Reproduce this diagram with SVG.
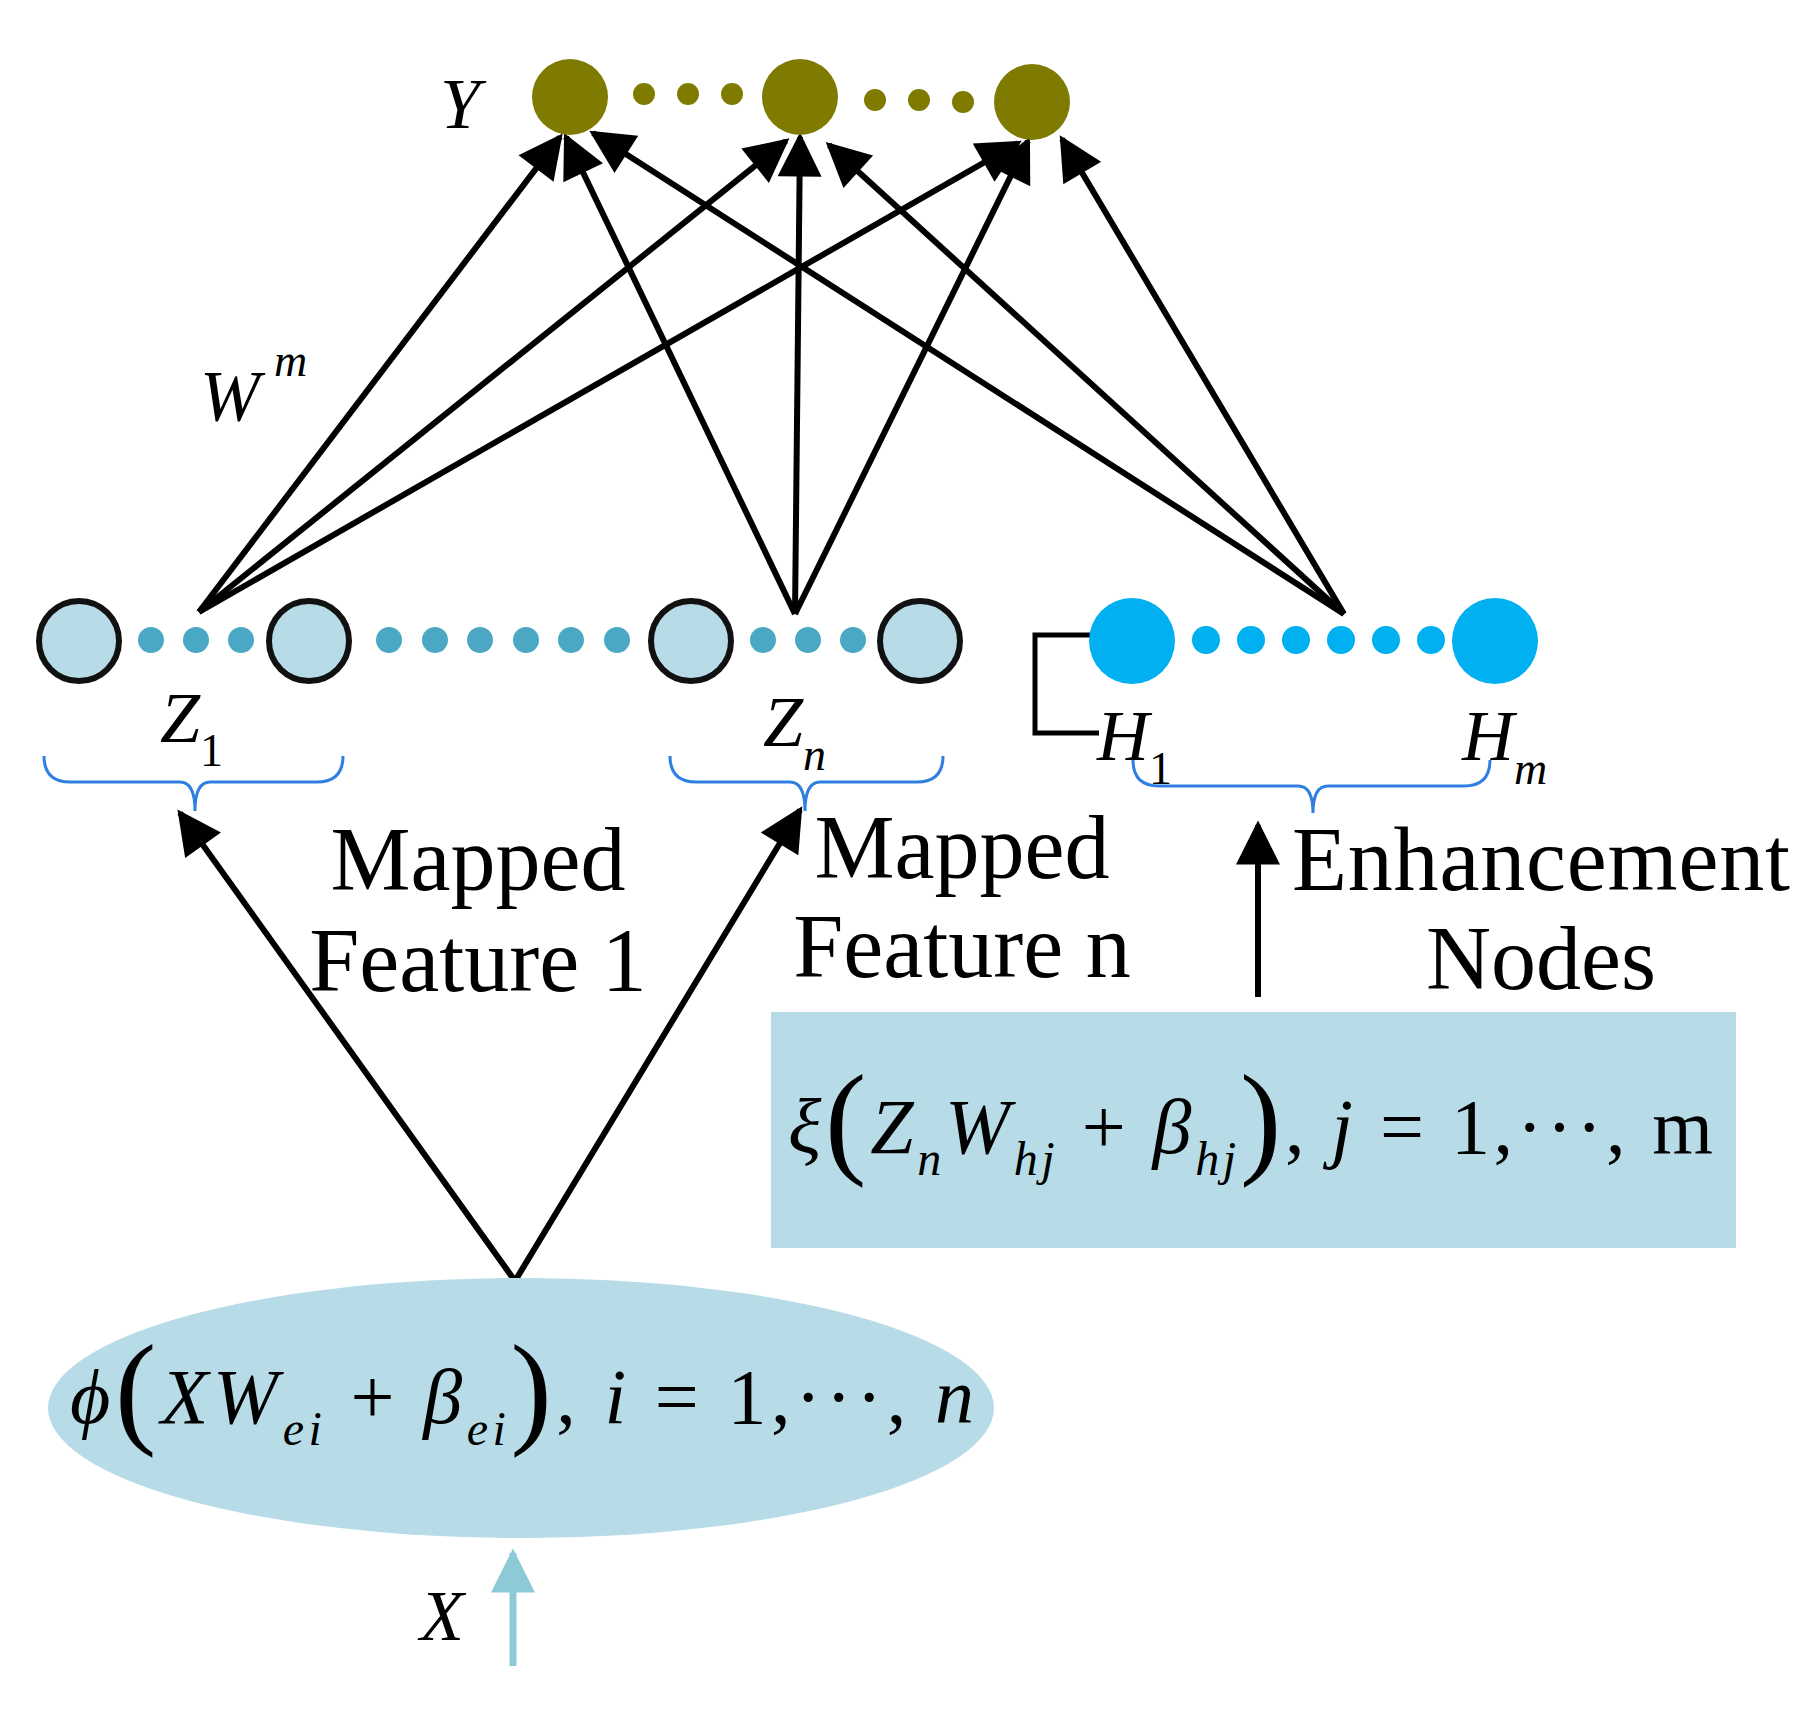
<svg xmlns="http://www.w3.org/2000/svg" width="1808" height="1710" viewBox="0 0 1808 1710">
<style>
.t{font-family:"Liberation Serif",serif;fill:#000}
.i{font-style:italic}
.e{stroke:#000;stroke-width:6;fill:none}
.br{stroke:#2f7fe0;stroke-width:3;fill:none}
.zc{fill:#b7dce8;stroke:#111;stroke-width:6}
.zd{fill:#4aa8c4}
.hc{fill:#00b0f0}
.yc{fill:#7f7a00}
</style>
<defs>
<marker id="a" viewBox="0 0 10 10" refX="9" refY="5" markerWidth="56" markerHeight="44" markerUnits="userSpaceOnUse" orient="auto-start-reverse"><path d="M0,0L10,5L0,10z" fill="#000"/></marker>
<marker id="b" viewBox="0 0 10 10" refX="9" refY="5" markerWidth="50" markerHeight="44" markerUnits="userSpaceOnUse" orient="auto"><path d="M0,0L10,5L0,10z" fill="#8ec9d8"/></marker>
</defs>
<rect width="1808" height="1710" fill="#fff"/>
<g id="connectors">
<line class="e" x1="199" y1="612" x2="560" y2="137" marker-end="url(#a)"/>
<line class="e" x1="199" y1="612" x2="786" y2="141" marker-end="url(#a)"/>
<line class="e" x1="199" y1="612" x2="1018" y2="143" marker-end="url(#a)"/>
<line class="e" x1="795" y1="614" x2="566" y2="137" marker-end="url(#a)"/>
<line class="e" x1="795" y1="614" x2="800" y2="137" marker-end="url(#a)"/>
<line class="e" x1="795" y1="614" x2="1028" y2="141" marker-end="url(#a)"/>
<line class="e" x1="1344" y1="614" x2="593" y2="133" marker-end="url(#a)"/>
<line class="e" x1="1344" y1="614" x2="829" y2="145" marker-end="url(#a)"/>
<line class="e" x1="1344" y1="614" x2="1062" y2="139" marker-end="url(#a)"/>
<polyline class="e" points="180,813 515,1281 800,810" marker-start="url(#a)" marker-end="url(#a)"/>
<line class="e" x1="1258" y1="997" x2="1258" y2="825" marker-end="url(#a)"/>
<line stroke="#8ec9d8" stroke-width="7" x1="513" y1="1666" x2="513" y2="1553" marker-end="url(#b)"/>
<polyline stroke="#000" stroke-width="5" fill="none" points="1092,635 1035,635 1035,733 1099,733"/>
</g>
<g id="Y">
<circle class="yc" cx="570" cy="97" r="38"/><circle class="yc" cx="800" cy="97" r="38"/><circle class="yc" cx="1032" cy="102" r="38"/>
<circle class="yc" cx="644" cy="94" r="11"/><circle class="yc" cx="688" cy="94" r="11"/><circle class="yc" cx="732" cy="94" r="11"/>
<circle class="yc" cx="875" cy="100" r="11"/><circle class="yc" cx="919" cy="100" r="11"/><circle class="yc" cx="963" cy="102" r="11"/>
<text class="t i" x="440" y="128" font-size="72">Y</text>
</g>
<g id="Z">
<circle class="zc" cx="79" cy="641" r="40"/><circle class="zc" cx="309" cy="641" r="40"/><circle class="zc" cx="691" cy="641" r="40"/><circle class="zc" cx="920" cy="641" r="40"/>
<circle class="zd" cx="151" cy="640" r="13"/><circle class="zd" cx="196" cy="640" r="13"/><circle class="zd" cx="241" cy="640" r="13"/>
<circle class="zd" cx="389" cy="640" r="13"/><circle class="zd" cx="435" cy="640" r="13"/><circle class="zd" cx="480" cy="640" r="13"/><circle class="zd" cx="526" cy="640" r="13"/><circle class="zd" cx="571" cy="640" r="13"/><circle class="zd" cx="617" cy="640" r="13"/>
<circle class="zd" cx="763" cy="640" r="13"/><circle class="zd" cx="808" cy="640" r="13"/><circle class="zd" cx="853" cy="640" r="13"/>
<text class="t i" x="160" y="742" font-size="72">Z<tspan font-style="normal" font-size="46" dy="24">1</tspan></text>
<text class="t i" x="763" y="746" font-size="72">Z<tspan font-size="46" dy="24">n</tspan></text>
<path class="br" d="M44,756 Q44,782 70,782 L180,782 Q195,782 195,811 Q195,782 210,782 L317,782 Q343,782 343,756"/>
<path class="br" d="M670,756 Q670,782 696,782 L790,782 Q805,782 805,811 Q805,782 820,782 L917,782 Q943,782 943,756"/>
</g>
<g id="H">
<circle class="hc" cx="1132" cy="641" r="43"/><circle class="hc" cx="1495" cy="641" r="43"/>
<circle class="hc" cx="1206" cy="640" r="14"/><circle class="hc" cx="1251" cy="640" r="14"/><circle class="hc" cx="1296" cy="640" r="14"/><circle class="hc" cx="1341" cy="640" r="14"/><circle class="hc" cx="1386" cy="640" r="14"/><circle class="hc" cx="1431" cy="640" r="14"/>
<text class="t i" x="1097" y="760" font-size="72">H<tspan font-style="normal" font-size="46" dy="24">1</tspan></text>
<text class="t i" x="1462" y="760" font-size="72">H<tspan font-size="46" dy="24">m</tspan></text>
<path class="br" d="M1133,760 Q1133,786 1159,786 L1298,786 Q1313,786 1313,813 Q1313,786 1328,786 L1464,786 Q1490,786 1490,760"/>
</g>
<g id="labels">
<text class="t i" x="200" y="420" font-size="72">W<tspan font-size="46" dx="14" dy="-44">m</tspan></text>
<text class="t" x="478" y="890" font-size="90" text-anchor="middle">Mapped</text>
<text class="t" x="478" y="991" font-size="90" text-anchor="middle">Feature 1</text>
<text class="t" x="962" y="878" font-size="90" text-anchor="middle">Mapped</text>
<text class="t" x="962" y="977" font-size="90" text-anchor="middle">Feature n</text>
<text class="t" x="1541" y="890" font-size="90" text-anchor="middle" textLength="498">Enhancement</text>
<text class="t" x="1541" y="989" font-size="90" text-anchor="middle">Nodes</text>
<text class="t i" x="420" y="1640" font-size="72">X</text>
</g>
<g id="enh">
<rect x="771" y="1012" width="965" height="236" fill="#b7dce8"/>
<text class="t" x="788" y="1153" font-size="78" textLength="925" lengthAdjust="spacing"><tspan class="i">ξ</tspan><tspan font-size="124" dy="8">(</tspan><tspan class="i" dy="-8">Z</tspan><tspan class="i" font-size="48" dy="22">n</tspan><tspan class="i" dy="-22">W</tspan><tspan class="i" font-size="48" dy="22">hj</tspan><tspan dy="-22"> + </tspan><tspan class="i">β</tspan><tspan class="i" font-size="48" dy="22">hj</tspan><tspan font-size="124" dy="-14">)</tspan><tspan dy="-8">, </tspan><tspan class="i">j</tspan><tspan> = 1,···, m</tspan></text>
</g>
<g id="map">
<ellipse cx="521" cy="1408" rx="473" ry="130" fill="#b7dce8"/>
<text class="t" x="70" y="1423" font-size="78" textLength="904" lengthAdjust="spacing"><tspan class="i">ϕ</tspan><tspan font-size="124" dy="8">(</tspan><tspan class="i" dy="-8">XW</tspan><tspan class="i" font-size="48" dy="22">ei</tspan><tspan dy="-22"> + </tspan><tspan class="i">β</tspan><tspan class="i" font-size="48" dy="22">ei</tspan><tspan font-size="124" dy="-14">)</tspan><tspan dy="-8">,    </tspan><tspan class="i">i</tspan><tspan> = 1,···, </tspan><tspan class="i">n</tspan></text>
</g>
</svg>
